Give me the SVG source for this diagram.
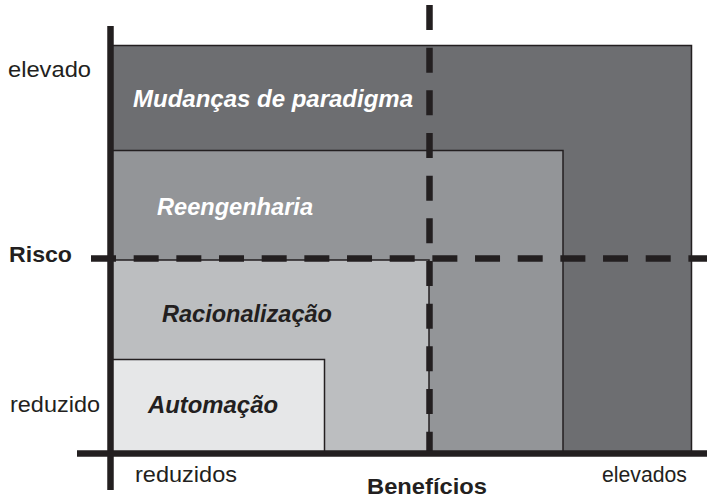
<svg xmlns="http://www.w3.org/2000/svg" width="707" height="500" viewBox="0 0 707 500">
<style>
.reg{stroke:#231f20;stroke-width:1.5}
.lbl{font-family:"Liberation Sans",Arial,sans-serif;font-size:24px;font-weight:bold;font-style:italic}
.ax{font-family:"Liberation Sans",Arial,sans-serif;font-size:22px;fill:#231f20}
.axb{font-family:"Liberation Sans",Arial,sans-serif;font-size:22px;font-weight:bold;fill:#231f20}
.axis{stroke:#231f20;stroke-width:6.5;fill:none}
.dash{stroke:#231f20;stroke-width:6.5;fill:none;stroke-dasharray:25 17.67}
</style>
<rect width="707" height="500" fill="#ffffff"/>
<g id="mudancas">
<rect class="reg" x="110" y="45.5" width="581.5" height="407.5" fill="#6d6e71"/>
<text class="lbl" x="133" y="107" fill="#ffffff" textLength="280" lengthAdjust="spacingAndGlyphs">Mudanças de paradigma</text>
</g>
<g id="reengenharia">
<rect class="reg" x="110" y="150.5" width="453" height="302.5" fill="#939598"/>
<text class="lbl" x="157" y="215" fill="#ffffff" textLength="156" lengthAdjust="spacingAndGlyphs">Reengenharia</text>
</g>
<g id="racionalizacao">
<rect class="reg" x="110" y="260" width="319" height="193" fill="#bcbec0"/>
<text class="lbl" x="162" y="322" fill="#231f20" textLength="170" lengthAdjust="spacingAndGlyphs">Racionalização</text>
</g>
<g id="automacao">
<rect class="reg" x="110" y="359.5" width="214.5" height="93.5" fill="#e6e7e8"/>
<text class="lbl" x="148" y="413" fill="#231f20" textLength="130" lengthAdjust="spacingAndGlyphs">Automação</text>
</g>
<g id="connectors">
<line class="dash" x1="429.5" y1="5" x2="429.5" y2="453"/>
<line class="dash" x1="91" y1="258.5" x2="707" y2="258.5"/>
<line class="axis" x1="110.5" y1="26" x2="110.5" y2="490"/>
<line class="axis" x1="77" y1="453.5" x2="707" y2="453.5"/>
</g>
<g id="axis-labels">
<text class="ax" x="8" y="77" textLength="83" lengthAdjust="spacingAndGlyphs">elevado</text>
<text class="axb" x="9" y="262" textLength="63" lengthAdjust="spacingAndGlyphs">Risco</text>
<text class="ax" x="10" y="412" textLength="90" lengthAdjust="spacingAndGlyphs">reduzido</text>
<text class="ax" x="135" y="482" textLength="102" lengthAdjust="spacingAndGlyphs">reduzidos</text>
<text class="axb" x="367" y="493.5" textLength="120" lengthAdjust="spacingAndGlyphs">Benefícios</text>
<text class="ax" x="602" y="482" textLength="85" lengthAdjust="spacingAndGlyphs">elevados</text>
</g>
</svg>
